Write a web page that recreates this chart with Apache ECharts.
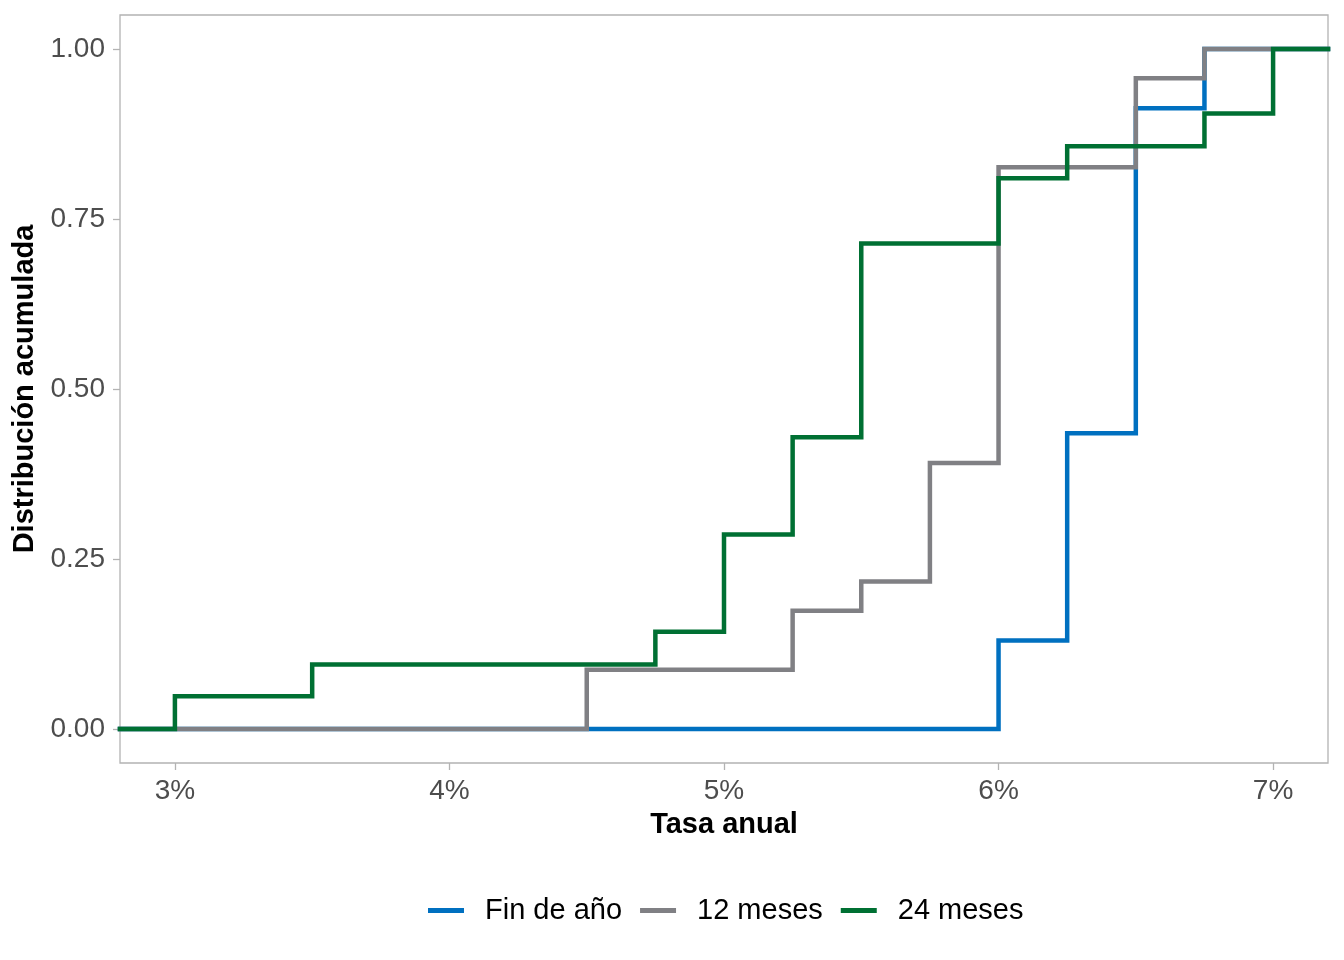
<!DOCTYPE html>
<html>
<head>
<meta charset="utf-8">
<script src="https://cdn.jsdelivr.net/npm/echarts@6/dist/echarts.min.js"></script>
<style>html,body{margin:0;padding:0;background:#fff}#c{width:1344px;height:960px}</style>
</head>
<body>
<div id="c"></div>
<script>
const seriesNames = ['Fin de año', '12 meses', '24 meses'];
const colors = ['#0070C0', '#808084', '#007033'];
// jump locations (tasa anual, %) and cumulative values after each jump
const jumpsFin = [6.0, 6.25, 6.5, 6.75];
const cdfFin   = [0.130, 0.435, 0.913, 1.0];
const jumps12  = [4.5, 5.25, 5.5, 5.75, 6.0, 6.5, 6.75];
const cdf12    = [0.087, 0.174, 0.217, 0.391, 0.826, 0.957, 1.0];
const jumps24  = [3.0, 3.5, 4.75, 5.0, 5.25, 5.5, 6.0, 6.25, 6.75, 7.0];
const cdf24    = [0.048, 0.095, 0.143, 0.286, 0.429, 0.714, 0.810, 0.857, 0.905, 1.0];
const xTicks = [3, 4, 5, 6, 7];
const yTicks = [0, 0.25, 0.5, 0.75, 1.0];
const xMin = 2.8, xMax = 7.2, yMin = -0.05, yMax = 1.05;

function ecdf(jumps, vals) {
  const d = [[xMin, 0]];
  jumps.forEach((x, i) => d.push([x, vals[i]]));
  d.push([xMax, vals[vals.length - 1]]);
  return d;
}
const allData = [ecdf(jumpsFin, cdfFin), ecdf(jumps12, cdf12), ecdf(jumps24, cdf24)];

const chart = echarts.init(document.getElementById('c'));
const font = 'Liberation Sans, Arial, sans-serif';
chart.setOption({
  animation: false,
  grid: { left: 120, right: 16, top: 15, bottom: 197, containLabel: false, outerBoundsMode: 'none',
          show: true, borderColor: '#b3b3b3', borderWidth: 1.3, backgroundColor: '#fff' },
  xAxis: {
    type: 'value', min: xMin, max: xMax,
    name: 'Tasa anual', nameLocation: 'middle', nameGap: 47,
    nameTextStyle: { fontFamily: font, fontSize: 29, fontWeight: 'bold', color: '#000' },
    axisLine: { show: false, onZero: false },
    splitLine: { show: false },
    axisTick: { show: true, inside: false, length: 7, lineStyle: { color: '#b3b3b3', width: 1.3 }, customValues: xTicks },
    axisLabel: { customValues: xTicks, margin: 14, fontFamily: font, fontSize: 28, color: '#4d4d4d', formatter: v => Math.round(v) + '%' }
  },
  yAxis: {
    type: 'value', min: yMin, max: yMax,
    name: 'Distribución acumulada', nameLocation: 'middle', nameGap: 71,
    nameTextStyle: { fontFamily: font, fontSize: 29, fontWeight: 'bold', color: '#000' },
    axisLine: { show: false, onZero: false },
    splitLine: { show: false },
    axisTick: { show: true, inside: false, length: 7, lineStyle: { color: '#b3b3b3', width: 1.3 }, customValues: yTicks },
    axisLabel: { customValues: yTicks, margin: 15, fontFamily: font, fontSize: 28, color: '#4d4d4d', formatter: v => v.toFixed(2) }
  },
  legend: {
    top: 891, left: 423, itemWidth: 36, itemHeight: 5, itemGap: 18, icon: 'rect',
    textStyle: { fontFamily: font, fontSize: 29, color: '#000', padding: [0, 0, 0, 16] },
    data: seriesNames
  },
  series: seriesNames.map((n, i) => ({
    name: n, type: 'line', step: 'end', data: allData[i], showSymbol: false, symbol: 'none',
    lineStyle: { color: colors[i], width: 4.5, cap: 'square', join: 'miter' },
    itemStyle: { color: colors[i] }, z: 2 + i
  }))
});
</script>
</body>
</html>
